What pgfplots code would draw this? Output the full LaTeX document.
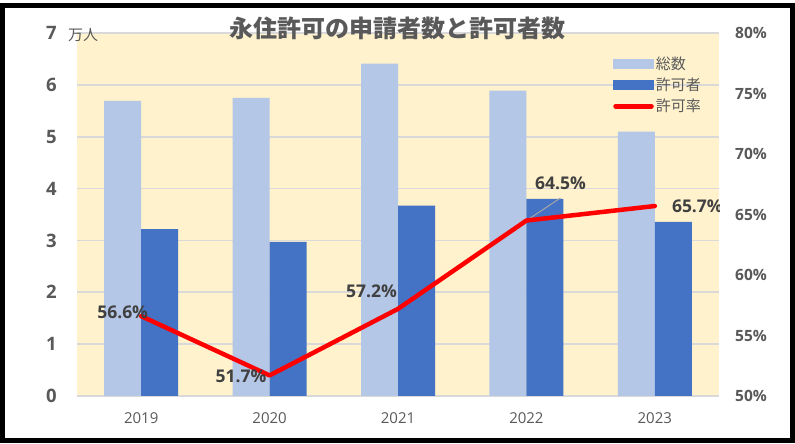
\documentclass[border=0pt]{standalone}
\usepackage{pgfplots}
\pgfplotsset{compat=1.18}
\usepackage{fontspec}
\setmainfont{Open Sans}
\newfontfamily\jp{Noto Sans CJK JP}
\definecolor{bgc}{HTML}{FFF2CC}
\definecolor{lightbar}{HTML}{B4C7E7}
\definecolor{darkbar}{HTML}{4472C4}
\definecolor{gridc}{HTML}{D9D9D9}
\definecolor{txt}{HTML}{595959}
\definecolor{lbl}{HTML}{404040}
\begin{document}
\begin{tikzpicture}
\path[use as bounding box] (0,0) rectangle (795pt,444pt);
\fill[white] (0,0) rectangle (795pt,444pt);
\begin{axis}[
  at={(77pt,48pt)}, anchor=south west,
  scale only axis, width=642pt, height=363pt,
  xmin=-0.5, xmax=4.5, ymin=0, ymax=7,
  axis background/.style={fill=bgc},
  axis line style={draw=none},
  major tick length=0pt,
  ymajorgrids, grid style={gridc, line width=1.6pt},
  xtick={0,1,2,3,4}, xticklabels={2019,2020,2021,2022,2023},
  ytick={0,1,...,7},
  /pgf/number format/assume math mode=true,
  xticklabel style={font=\fontsize{15}{18}\selectfont, text=txt, inner sep=0pt, yshift=-16pt},
  yticklabel style={font=\fontsize{18.5}{22}\selectfont\bfseries, text=txt, inner sep=0pt, xshift=-20pt},
]
\addplot[ybar, bar width=37pt, bar shift=-18.5pt, fill=lightbar, draw=none]
  coordinates {(0,5.69) (1,5.75) (2,6.41) (3,5.89) (4,5.10)};
\addplot[ybar, bar width=37pt, bar shift=18.5pt, fill=darkbar, draw=none]
  coordinates {(0,3.22) (1,2.97) (2,3.67) (3,3.80) (4,3.36)};
\end{axis}
\begin{axis}[
  at={(77pt,48pt)}, anchor=south west,
  scale only axis, width=642pt, height=363pt,
  xmin=-0.5, xmax=4.5, ymin=50, ymax=80,
  axis line style={draw=none},
  major tick length=0pt,
  xtick=\empty,
  ytick={50,55,...,80},
  yticklabel pos=right,
  yticklabel={\pgfmathprintnumber[assume math mode=true]{\tick}\%},
  yticklabel style={font=\fontsize{15.5}{19}\selectfont\bfseries, text=txt, inner sep=0pt, xshift=16pt},
  legend style={draw=none, fill=none, at={(0.835,0.94)}, anchor=north west,
    font=\jp\fontsize{15}{18}\selectfont, text=txt, inner sep=0pt, row sep=3pt,
    nodes={inner sep=2pt}},
  legend cell align=left,
]
\addlegendimage{legend image code/.code={\fill[lightbar] (0pt,-4.5pt) rectangle (40pt,4.5pt);}}
\addlegendentry{総数}
\addlegendimage{legend image code/.code={\fill[darkbar] (0pt,-4.5pt) rectangle (40pt,4.5pt);}}
\addlegendentry{許可者}
\draw[color={rgb,255:red,166;green,166;blue,166}, line width=1pt] (axis cs:3,64.5) -- ++(34pt,22.5pt);
\addplot[red, line width=4.5pt, line cap=round, line join=round,
  legend image code/.code={\draw[red, line width=4.5pt, line cap=round] (2pt,0) -- (38pt,0);}]
  coordinates {(0,56.6) (1,51.7) (2,57.2) (3,64.5) (4,65.7)};
\addlegendentry{許可率}
\begin{scope}[every node/.style={font=\fontsize{17.5}{21}\selectfont\bfseries, text=lbl, inner sep=0pt}]
\node[anchor=east, xshift=7pt, yshift=4.3pt] at (axis cs:0,56.6) {56.6\%};
\node[anchor=east, xshift=-3pt, yshift=-1.3pt] at (axis cs:1,51.7) {51.7\%};
\node[anchor=east, xshift=-1pt, yshift=17.3pt] at (axis cs:2,57.2) {57.2\%};
\node[anchor=center, xshift=34pt, yshift=37.5pt] at (axis cs:3,64.5) {64.5\%};
\node[anchor=west, xshift=17pt, yshift=-0.7pt] at (axis cs:4,65.7) {65.7\%};
\end{scope}
\end{axis}
\node[font=\jp\bfseries\fontsize{24}{28}\selectfont, text=txt] at (397pt,416pt) {永住許可の申請者数と許可者数};
\node[font=\jp\fontsize{15}{18}\selectfont, text=txt, anchor=west, inner sep=0pt] at (68pt,409pt) {万人};
\draw[black, line width=5pt] (2.5pt,3pt) rectangle (792pt,438.5pt);
\end{tikzpicture}
\end{document}
